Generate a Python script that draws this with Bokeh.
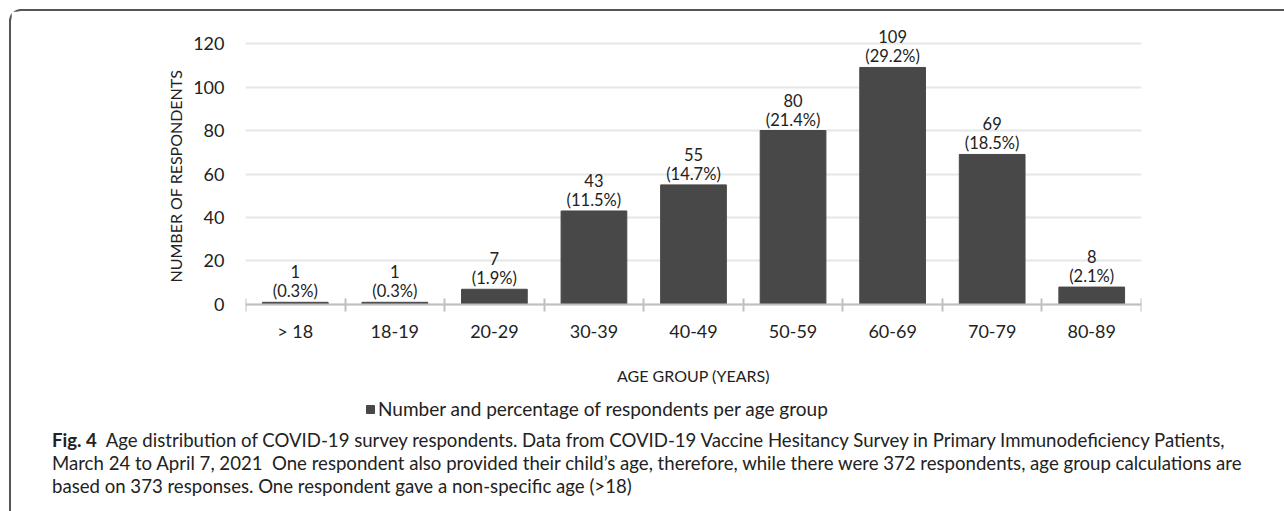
from bokeh.plotting import figure
from bokeh.models import (ColumnDataSource, Range1d, FixedTicker, LabelSet, Title,
                          Legend, LegendItem, Div)
from bokeh.layouts import column
from bokeh.core.properties import value
from bokeh.embed import file_html
from bokeh.resources import INLINE

# ---- data ----
age_groups = ["> 18", "18-19", "20-29", "30-39", "40-49", "50-59", "60-69", "70-79", "80-89"]
counts = [1, 1, 7, 43, 55, 80, 109, 69, 8]
percents = ["0.3%", "0.3%", "1.9%", "11.5%", "14.7%", "21.4%", "29.2%", "18.5%", "2.1%"]
y_ticks = [0, 20, 40, 60, 80, 100, 120]

series_name = "Number and percentage of respondents per age group"
x_title = "AGE GROUP (YEARS)"
y_title = "NUMBER OF RESPONDENTS"
caption_bold = "Fig. 4"
caption_lines = [
    "Age distribution of COVID-19 survey respondents. Data from COVID-19 Vaccine Hesitancy Survey in Primary Immunodeficiency Patients,",
    "March 24 to April 7, 2021&nbsp; One respondent also provided their child\u2019s age, therefore, while there were 372 respondents, age group calculations are",
    "based on 373 responses. One respondent gave a non-specific age (&gt;18)",
]

BAR = "#484848"
TXT = "#222222"
FONT = "Lato"
CAP_FONT = "Lato"

x_pos = [i + 0.5 for i in range(len(age_groups))]
src = ColumnDataSource(dict(
    x=x_pos, y=counts,
    n=[str(c) for c in counts],
    pct=[f"({q})" for q in percents],
))

W, H = 1272, 413
p = figure(width=W, height=H, output_backend="svg", toolbar_location=None,
           x_range=Range1d(0, len(age_groups)), y_range=Range1d(-55.2, 132.9),
           min_border_left=234, min_border_right=142, min_border_top=4,
           min_border_bottom=0)
p.outline_line_color = None

bars = p.vbar(x="x", top="y", width=0.66, source=src, fill_color=BAR, line_color=BAR)

for col, off in (("pct", 1), ("n", 24)):
    p.add_layout(LabelSet(x="x", y="y", text=col, source=src, text_align="center",
                          text_baseline="bottom", y_offset=off, text_font=value(FONT),
                          text_font_size="16.5px", text_color=TXT))

# y axis
p.yaxis.ticker = FixedTicker(ticks=y_ticks)
p.yaxis.axis_line_color = None
p.yaxis.major_tick_line_color = None
p.yaxis.minor_tick_line_color = None
p.yaxis.major_label_standoff = 15
p.yaxis.major_label_text_font = FONT
p.yaxis.major_label_text_font_size = "18px"
p.yaxis.major_label_text_color = TXT
p.ygrid.ticker = FixedTicker(ticks=y_ticks)
p.ygrid.grid_line_color = "#e6e6e6"
p.ygrid.grid_line_width = 2
p.xgrid.grid_line_color = None

# x axis, pinned at y = 0 inside the frame
p.xaxis.fixed_location = 0
p.xaxis.ticker = FixedTicker(ticks=x_pos, minor_ticks=list(range(len(age_groups) + 1)))
p.xaxis.major_label_overrides = {x: g for x, g in zip(x_pos, age_groups)}
p.xaxis.axis_line_color = "#c0c0c0"
p.xaxis.axis_line_width = 2
p.xaxis.major_tick_line_color = None
p.xaxis.minor_tick_line_color = "#c0c0c0"
p.xaxis.minor_tick_line_width = 2
p.xaxis.minor_tick_in = 6
p.xaxis.minor_tick_out = 7
p.xaxis.major_label_standoff = 9
p.xaxis.major_label_text_font = FONT
p.xaxis.major_label_text_font_size = "18px"
p.xaxis.major_label_text_color = TXT
p.xaxis.axis_label = x_title
p.xaxis.axis_label_standoff = 20
p.xaxis.axis_label_text_font = FONT
p.xaxis.axis_label_text_font_size = "16px"
p.xaxis.axis_label_text_font_style = "normal"
p.xaxis.axis_label_text_color = TXT

# y title
p.add_layout(Title(text=y_title, align="left", offset=142, standoff=12,
                   text_font=FONT, text_font_size="16px", text_font_style="normal",
                   text_color=TXT), "left")

# legend
legend = Legend(items=[LegendItem(label=series_name, renderers=[bars])],
                location=(120, 4), orientation="horizontal",
                padding=7, margin=0, border_line_color=None, background_fill_alpha=0,
                glyph_width=10, glyph_height=10, label_height=18, label_standoff=3,
                label_text_font=FONT, label_text_font_size="19px", label_text_color=TXT)
p.add_layout(legend, "center")

cap_html = (f"<b>{caption_bold}</b>&nbsp;&nbsp;" + caption_lines[0] + "<br>"
            + caption_lines[1] + "<br>" + caption_lines[2])
div = Div(text=cap_html, width=W, height=86,
          styles={"font-family": CAP_FONT, "font-size": "18.6px", "line-height": "22.8px",
                  "color": TXT, "white-space": "nowrap", "padding-left": "36px"})

layout = column(p, div, spacing=0, margin=(9, 0, 0, 9),
                styles={"border-left": "2px solid #555555", "border-top": "2px solid #555555",
                        "border-top-left-radius": "12px"})

open("out.html", "w").write(file_html(layout, INLINE))
